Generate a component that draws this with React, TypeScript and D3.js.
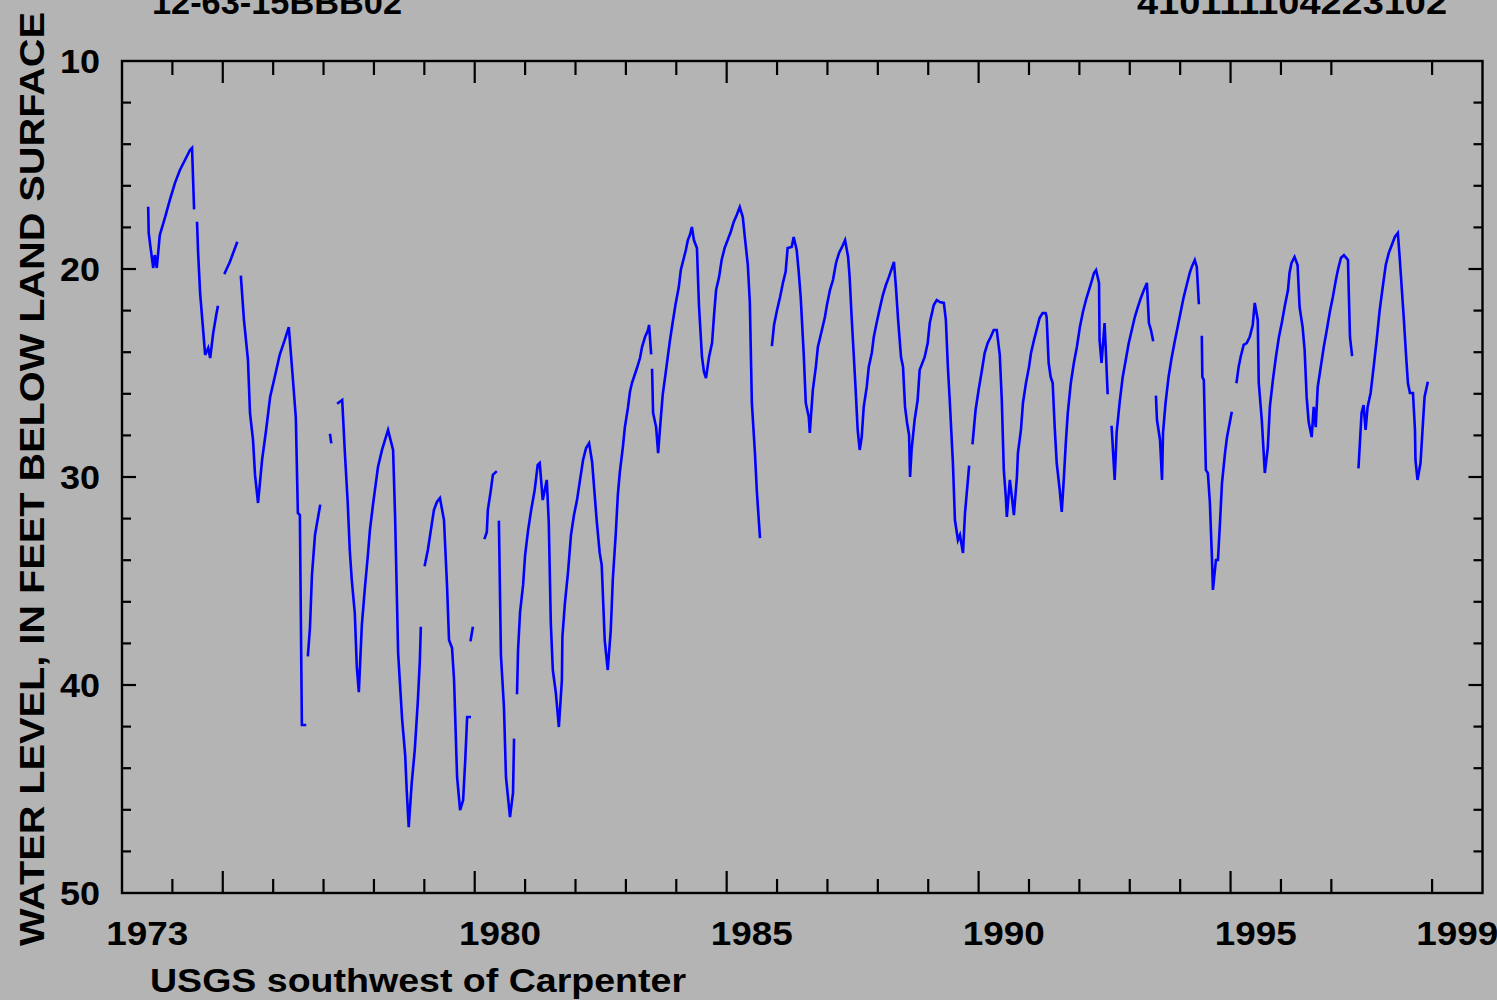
import React from "react";
import * as d3 from "d3";

type Pt = [number, number];

// ---- data: [decimal year, water level (feet below land surface)] ----
const seg1973a: Pt[] = [[1973.52,17.07],[1973.53,18.27],[1973.56,18.85],[1973.62,19.95],[1973.65,19.33],[1973.69,19.95],[1973.75,18.37],[1973.85,17.55],[1973.95,16.68],[1974.05,15.87],[1974.15,15.24],[1974.25,14.76],[1974.35,14.28],[1974.39,14.18],[1974.43,17.07]];
const seg1974: Pt[] = [[1974.49,17.79],[1974.51,19.18],[1974.55,21.15],[1974.61,22.93],[1974.65,24.13],[1974.71,23.8],[1974.75,24.28],[1974.81,23.08],[1974.87,22.21],[1974.9,21.83]];
const seg1975a: Pt[] = [[1975.04,20.19],[1975.14,19.66],[1975.28,18.75]];
const seg1975b: Pt[] = [[1975.36,20.38],[1975.42,22.45],[1975.5,24.38],[1975.54,26.92],[1975.6,28.22],[1975.64,29.9],[1975.7,31.25],[1975.78,29.18],[1975.86,27.74],[1975.94,26.15],[1976.04,25.1],[1976.13,24.13],[1976.23,23.41],[1976.31,22.79],[1976.39,25.24],[1976.45,27.16],[1976.49,31.73],[1976.53,31.83],[1976.57,41.92],[1976.63,41.92]];
const seg1976: Pt[] = [[1976.69,38.56],[1976.73,37.26],[1976.77,34.71],[1976.83,32.79],[1976.93,31.39]];
const seg1977a: Pt[] = [[1977.13,27.98],[1977.15,28.32]];
const seg1977b: Pt[] = [[1977.29,26.44],[1977.37,26.3],[1977.42,28.7],[1977.48,31.25],[1977.52,33.51],[1977.56,34.95],[1977.62,36.54],[1977.66,39.13],[1977.7,40.34],[1977.76,37.12],[1977.82,35.34],[1977.88,33.75],[1977.92,32.55],[1977.98,31.35],[1978.08,29.52],[1978.16,28.7],[1978.22,28.22],[1978.28,27.74],[1978.38,28.7],[1978.42,31.92],[1978.48,38.46],[1978.56,41.68],[1978.62,43.37],[1978.65,45.05],[1978.69,46.83],[1978.75,44.71],[1978.81,43.13],[1978.87,40.82],[1978.91,38.89],[1978.93,37.26]];
const seg1979: Pt[] = [[1979.01,34.23],[1979.07,33.51],[1979.13,32.55],[1979.19,31.59],[1979.25,31.2],[1979.31,31.01],[1979.39,32.07],[1979.45,35.19],[1979.49,37.84],[1979.55,38.22],[1979.59,39.76],[1979.65,44.42],[1979.71,46.01],[1979.77,45.53],[1979.81,43.7],[1979.85,41.54],[1979.9,41.54]];
const seg1979b: Pt[] = [[1979.92,37.84],[1979.96,37.26]];
const seg1980a: Pt[] = [[1980.2,32.93],[1980.24,32.64],[1980.26,31.59],[1980.32,30.63],[1980.36,29.9],[1980.42,29.76]];
const seg1980b: Pt[] = [[1980.48,32.16],[1980.52,38.56],[1980.58,41.06],[1980.62,44.42],[1980.7,46.35],[1980.76,45.19],[1980.78,42.64]];
const seg1981: Pt[] = [[1980.84,40.38],[1980.86,38.32],[1980.9,36.49],[1980.96,35.19],[1981.0,33.75],[1981.06,32.55],[1981.12,31.59],[1981.19,30.63],[1981.25,29.42],[1981.29,29.33],[1981.35,31.11],[1981.43,30.14],[1981.47,32.21],[1981.51,37.02],[1981.55,39.28],[1981.61,40.38],[1981.67,42.02],[1981.73,39.76],[1981.74,37.69],[1981.79,36.06],[1981.85,34.62],[1981.91,32.79],[1981.97,31.83],[1982.03,31.11],[1982.09,30.14],[1982.15,29.18],[1982.21,28.61],[1982.27,28.37],[1982.33,29.28],[1982.42,32.07],[1982.48,33.65],[1982.52,34.23],[1982.58,37.84],[1982.64,39.28],[1982.7,37.36],[1982.74,34.95],[1982.8,32.69],[1982.84,30.87],[1982.88,29.76],[1982.94,28.56],[1982.98,27.6],[1983.04,26.68],[1983.08,25.91],[1983.12,25.48],[1983.22,24.76],[1983.28,24.28],[1983.32,23.75],[1983.38,23.27],[1983.44,22.93],[1983.46,22.69],[1983.5,24.04]];
const seg1983: Pt[] = [[1983.52,24.86],[1983.54,26.92],[1983.6,27.6],[1983.64,28.85],[1983.67,27.88],[1983.73,26.06],[1983.81,24.62],[1983.87,23.51],[1983.93,22.55],[1983.99,21.63],[1984.05,20.87],[1984.09,20.05],[1984.15,19.47],[1984.19,19.09],[1984.23,18.61],[1984.27,18.37],[1984.31,17.98],[1984.35,18.61],[1984.41,18.99],[1984.45,21.73],[1984.51,24.23],[1984.55,24.95],[1984.59,25.24],[1984.65,24.23],[1984.71,23.56],[1984.75,22.21],[1984.79,21.01],[1984.85,20.38],[1984.9,19.57],[1984.96,18.99],[1985.02,18.61],[1985.08,18.22],[1985.14,17.74],[1985.2,17.4],[1985.26,17.02],[1985.32,17.5],[1985.36,18.46],[1985.42,19.81],[1985.46,21.63],[1985.5,26.44],[1985.56,28.8],[1985.6,30.72],[1985.66,32.88]];
const seg1986: Pt[] = [[1985.9,23.65],[1985.94,22.69],[1986.0,21.97],[1986.06,21.35],[1986.12,20.63],[1986.17,20.14],[1986.21,18.99],[1986.29,18.94],[1986.33,18.46],[1986.39,19.09],[1986.43,20.14],[1986.47,21.39],[1986.53,24.13],[1986.57,26.44],[1986.63,27.12],[1986.65,27.88],[1986.71,25.82],[1986.77,24.71],[1986.81,23.75],[1986.89,22.93],[1986.95,22.31],[1986.99,21.73],[1987.05,21.01],[1987.11,20.53],[1987.17,19.71],[1987.23,19.23],[1987.29,18.94],[1987.35,18.61],[1987.41,19.42],[1987.44,20.38],[1987.48,22.31],[1987.52,24.04],[1987.56,25.82],[1987.6,27.74],[1987.64,28.7],[1987.68,28.08],[1987.72,26.63],[1987.78,25.67],[1987.82,24.71],[1987.88,24.04],[1987.92,23.27],[1987.98,22.55],[1988.04,21.88],[1988.1,21.25],[1988.16,20.77],[1988.22,20.38],[1988.28,19.95],[1988.32,19.66],[1988.36,20.91],[1988.4,22.36],[1988.46,24.23],[1988.5,24.71],[1988.54,26.63],[1988.58,27.4],[1988.62,27.98],[1988.64,30.0],[1988.67,28.7],[1988.73,27.26],[1988.79,26.3],[1988.83,24.86],[1988.93,24.23],[1988.99,23.56],[1989.03,22.6],[1989.11,21.73],[1989.17,21.49],[1989.23,21.59],[1989.31,21.63],[1989.35,22.45],[1989.39,24.71],[1989.43,26.44],[1989.49,29.33],[1989.53,32.07],[1989.59,33.03],[1989.63,32.79],[1989.69,33.65],[1989.73,31.73],[1989.77,30.63],[1989.81,29.52]];
const seg1990: Pt[] = [[1989.88,28.37],[1989.94,26.78],[1990.0,25.82],[1990.06,24.95],[1990.12,24.04],[1990.18,23.56],[1990.24,23.27],[1990.3,22.93],[1990.36,22.93],[1990.42,24.13],[1990.46,26.3],[1990.5,29.66],[1990.54,30.96],[1990.56,31.92],[1990.62,30.14],[1990.66,30.96],[1990.7,31.83],[1990.76,30.0],[1990.78,28.85],[1990.84,27.74],[1990.88,26.44],[1990.94,25.48],[1991.0,24.71],[1991.04,24.04],[1991.1,23.41],[1991.16,22.84],[1991.21,22.36],[1991.27,22.12],[1991.33,22.12],[1991.35,22.31],[1991.39,24.52],[1991.43,25.19],[1991.47,25.48],[1991.51,27.6],[1991.55,29.33],[1991.61,30.63],[1991.65,31.68],[1991.69,30.14],[1991.73,28.37],[1991.77,26.92],[1991.83,25.48],[1991.89,24.52],[1991.95,23.75],[1992.01,22.79],[1992.07,22.07],[1992.13,21.49],[1992.19,21.01],[1992.25,20.53],[1992.29,20.19],[1992.33,20.05],[1992.39,20.67],[1992.4,23.41],[1992.44,24.52],[1992.5,22.6],[1992.52,23.65],[1992.56,25.96]];
const seg1992: Pt[] = [[1992.64,27.6],[1992.7,30.14],[1992.74,27.84],[1992.8,26.39],[1992.86,25.19],[1992.92,24.38],[1992.98,23.56],[1993.04,22.93],[1993.1,22.31],[1993.16,21.83],[1993.22,21.39],[1993.28,21.01],[1993.34,20.67],[1993.38,22.6],[1993.42,22.93],[1993.46,23.41]];
const seg1993: Pt[] = [[1993.52,26.15],[1993.54,27.26],[1993.6,28.22],[1993.64,30.14],[1993.66,27.88],[1993.71,26.44],[1993.77,25.19],[1993.83,24.28],[1993.89,23.51],[1993.95,22.79],[1994.01,22.07],[1994.07,21.35],[1994.13,20.77],[1994.19,20.19],[1994.23,19.9],[1994.29,19.57],[1994.33,19.9],[1994.37,21.63]];
const seg1994: Pt[] = [[1994.43,23.27],[1994.44,25.19],[1994.47,25.34],[1994.51,29.66],[1994.55,29.81],[1994.59,31.25],[1994.63,33.85],[1994.65,35.43],[1994.71,33.99],[1994.75,33.99],[1994.79,32.21],[1994.83,30.29],[1994.89,28.85],[1994.93,28.08],[1995.02,26.92]];
const seg1995: Pt[] = [[1995.12,25.43],[1995.16,24.71],[1995.2,24.23],[1995.26,23.65],[1995.32,23.56],[1995.38,23.27],[1995.44,22.69],[1995.48,21.63],[1995.54,22.45],[1995.56,25.48],[1995.62,27.26],[1995.68,29.81],[1995.74,28.56],[1995.78,26.63],[1995.84,25.34],[1995.9,24.23],[1995.96,23.27],[1996.02,22.55],[1996.08,21.73],[1996.14,21.01],[1996.17,20.19],[1996.21,19.71],[1996.27,19.42],[1996.33,19.81],[1996.37,21.83],[1996.43,22.79],[1996.47,23.89],[1996.51,26.15],[1996.55,27.36],[1996.61,28.08],[1996.65,26.63],[1996.69,27.6],[1996.73,25.67],[1996.79,24.71],[1996.85,23.75],[1996.91,22.93],[1996.97,22.07],[1997.03,21.35],[1997.09,20.53],[1997.13,20.05],[1997.19,19.47],[1997.25,19.33],[1997.33,19.57],[1997.37,23.27],[1997.41,24.13]];
const seg1997: Pt[] = [[1997.54,29.52],[1997.6,26.92],[1997.64,26.54],[1997.68,27.74],[1997.72,26.63],[1997.78,25.96],[1997.84,24.71],[1997.9,23.41],[1997.96,21.97],[1998.02,20.87],[1998.08,19.81],[1998.14,19.23],[1998.2,18.85],[1998.26,18.46],[1998.32,18.27],[1998.36,19.57],[1998.4,21.01],[1998.44,22.45],[1998.48,24.04],[1998.52,25.48],[1998.56,25.96],[1998.62,25.96],[1998.66,27.74],[1998.67,29.18],[1998.71,30.14],[1998.77,29.33],[1998.81,27.74],[1998.85,26.15],[1998.91,25.48]];

const segments: Pt[][] = [seg1973a, seg1974, seg1975a, seg1975b, seg1976, seg1977a, seg1977b, seg1979, seg1979b, seg1980a, seg1980b, seg1981, seg1983, seg1986, seg1990, seg1992, seg1993, seg1994, seg1995, seg1997];

const yearLabels = [1973, 1980, 1985, 1990, 1995, 1999];
const tickYears = [1974,1975,1976,1977,1978,1979,1980,1981,1982,1983,1984,1985,1986,1987,1988,1989,1990,1991,1992,1993,1994,1995,1996,1997,1999];
const majorYears = [1975, 1980, 1985, 1990, 1995];
const levelLabels = [10, 20, 30, 40, 50];
const levelTicks = [12,14,16,18,20,22,24,26,28,30,32,34,36,38,40,42,44,46,48];

const siteLocal = "12-63-15BBB02";
const siteId = "410111104223102";
const yTitle = "WATER LEVEL, IN FEET BELOW LAND SURFACE";
const footer = "USGS southwest of Carpenter";

export default function App() {
  const W = 1497, H = 1000;
  const L = 122, R = 1482.5, T = 61, B = 893;
  const x = d3.scaleLinear().domain([1973, 2000]).range([L, R]);
  const y = d3.scaleLinear().domain([10, 50]).range([T, B]);
  const line = d3.line<Pt>().x(d => x(d[0])).y(d => y(d[1]));
  const font = "'Liberation Sans', Arial, sans-serif";
  const txt = { fontFamily: font, fontWeight: 700 as const, fill: "#000" };

  return (
    <svg width={W} height={H} style={{ position: "absolute", left: 0, top: 0, display: "block" }}>
      <rect x={0} y={0} width={W} height={H} fill="#b4b4b4" />
      {/* data */}
      <g fill="none" stroke="#0000ff" strokeWidth={2.6} strokeLinejoin="miter" strokeLinecap="square">
        {segments.map((s, i) => <path key={i} d={line(s) || ""} />)}
      </g>
      {/* frame */}
      <rect x={L} y={T} width={R - L} height={B - T} fill="none" stroke="#000" strokeWidth={2.4} />
      <g stroke="#000" strokeWidth={2.2}>
        {tickYears.map(yr => {
          const len = majorYears.includes(yr) ? 22 : 14;
          const xx = x(yr);
          return (
            <g key={yr}>
              <line x1={xx} x2={xx} y1={T} y2={T + len} />
              <line x1={xx} x2={xx} y1={B} y2={B - len} />
            </g>
          );
        })}
        {levelTicks.map(v => {
          const len = v % 10 === 0 ? 14 : 9;
          const yy = y(v);
          return (
            <g key={v}>
              <line x1={L} x2={L + len} y1={yy} y2={yy} />
              <line x1={R} x2={R - len} y1={yy} y2={yy} />
            </g>
          );
        })}
      </g>
      {/* y labels */}
      {levelLabels.map(v => (
        <text key={v} x={100} y={y(v) + 12} textAnchor="end" fontSize={33} textLength={40} lengthAdjust="spacingAndGlyphs" {...txt}>{v}</text>
      ))}
      {/* x labels */}
      {yearLabels.map(yr => (
        <text key={yr} x={x(yr + 0.5) - 41} y={945} fontSize={34} textLength={82} lengthAdjust="spacingAndGlyphs" {...txt}>{yr}</text>
      ))}
      {/* titles */}
      <text x={152} y={14} fontSize={34} textLength={250} lengthAdjust="spacingAndGlyphs" {...txt}>{siteLocal}</text>
      <text x={1137} y={14} fontSize={34} textLength={310} lengthAdjust="spacingAndGlyphs" {...txt}>{siteId}</text>
      <text transform="translate(44,946) rotate(-90)" fontSize={35} textLength={934} lengthAdjust="spacingAndGlyphs" {...txt}>{yTitle}</text>
      <text x={150} y={992} fontSize={34} textLength={536} lengthAdjust="spacingAndGlyphs" {...txt}>{footer}</text>
    </svg>
  );
}
